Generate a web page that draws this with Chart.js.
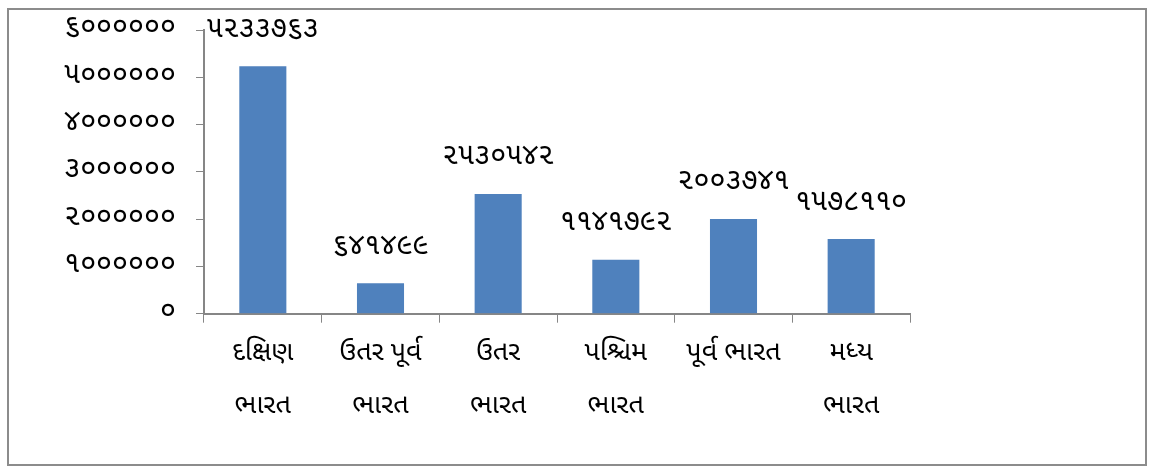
<!DOCTYPE html>
<html>
<head>
<meta charset="utf-8">
<script src="https://cdn.jsdelivr.net/npm/chart.js@4.4.1/dist/chart.umd.min.js"></script>
<style>
  html, body { margin: 0; padding: 0; background: #fff; }
  #wrap { position: relative; width: 1153px; height: 471px; }
  #frame { position: absolute; left: 7px; top: 8px; width: 1140px; height: 458px; border: 2px solid #8c8c8c; box-sizing: border-box; }
  canvas { position: absolute; left: 0; top: 0; }
</style>
</head>
<body>
<div id="wrap">
  <div id="frame"></div>
  <canvas id="miGrafico" width="1153" height="471"></canvas>
</div>
<script>
// categorias (regiones) en gujarati, en dos lineas
var regiones = [
    ['દક્ષિણ', 'ભારત'],
    ['ઉતર પૂર્વ', 'ભારત'],
    ['ઉતર', 'ભારત'],
    ['પશ્ચિમ', 'ભારત'],
    ['પૂર્વ ભારત'],
    ['મધ્ય', 'ભારત']
];
var valores = [5233763, 641499, 2530542, 1141792, 2003741, 1578110];
var ticksY = [0, 1000000, 2000000, 3000000, 4000000, 5000000, 6000000];

var fuente = "'Noto Sans Gujarati', 'Shruti', 'Lohit Gujarati', sans-serif";

// pasa los numeros a digitos gujarati
function gujarati(n) {
    var d = '૦૧૨૩૪૫૬૭૮૯';
    return String(n).replace(/[0-9]/g, function (c) { return d[+c]; });
}

// etiquetas encima de las barras
var etiquetas = {
    id: 'etiquetas',
    afterDatasetsDraw: function (chart) {
        var ctx = chart.ctx;
        var meta = chart.getDatasetMeta(0);
        ctx.save();
        ctx.font = '29px ' + fuente;
        ctx.fillStyle = '#000';
        ctx.textAlign = 'center';
        ctx.textBaseline = 'middle';
        meta.data.forEach(function (bar, i) {
            ctx.fillText(gujarati(valores[i]), bar.x, bar.y - 35);
        });
        ctx.restore();
    }
};

var canvas = document.getElementById('miGrafico');
var miGrafico = new Chart(canvas, {
    type: 'bar',
    data: {
        labels: regiones,
        datasets: [{
            data: valores,
            backgroundColor: '#4f81bd',
            borderWidth: 0,
            barPercentage: 0.4,
            categoryPercentage: 1
        }]
    },
    options: {
        responsive: false,
        animation: false,
        layout: { padding: { top: 30, right: 243, bottom: 31, left: 0 } },
        plugins: { legend: { display: false }, tooltip: { enabled: false } },
        scales: {
            x: {
                offset: true,
                grid: { drawOnChartArea: false, tickLength: 9, color: '#868686', offset: true },
                border: { color: '#868686', width: 2 },
                ticks: {
                    color: '#000', padding: 6, maxRotation: 0, autoSkip: false,
                    font: { family: fuente, size: 27, lineHeight: 1.95 }
                }
            },
            y: {
                min: 0, max: 6000000,
                afterFit: function (s) { s.width = 204; s.paddingTop = 0; s.paddingBottom = 0; },
                afterBuildTicks: function (s) { s.ticks = ticksY.map(function (v) { return { value: v }; }); },
                grid: { drawOnChartArea: false, tickLength: 8, color: '#868686' },
                border: { color: '#868686', width: 2 },
                ticks: {
                    color: '#000', padding: 20,
                    font: { family: fuente, size: 29 },
                    callback: function (v) { return gujarati(v); }
                }
            }
        }
    },
    plugins: [etiquetas]
});
</script>
</body>
</html>
